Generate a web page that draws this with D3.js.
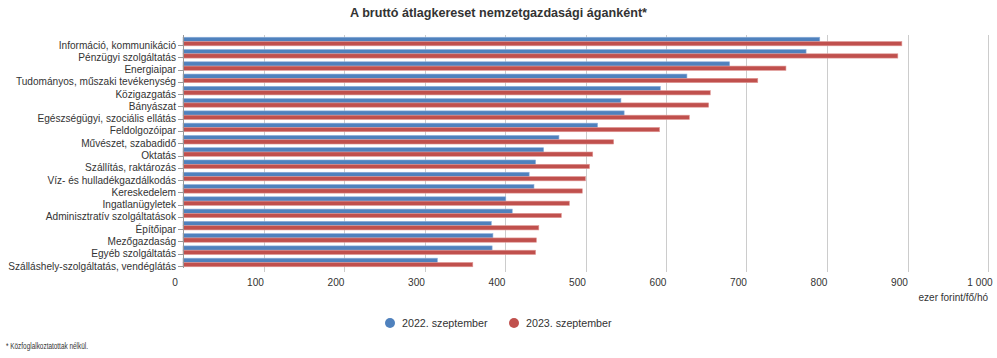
<!DOCTYPE html>
<html><head><meta charset="utf-8">
<script src="https://cdn.jsdelivr.net/npm/d3@7"></script>
<style>
body{margin:0;background:#fff;}
svg{display:block;font-family:"Liberation Sans",Arial,sans-serif;}
</style></head>
<body><svg id="c" width="997" height="358"></svg>
<script>
const categories = ["Információ, kommunikáció","Pénzügyi szolgáltatás","Energiaipar","Tudományos, műszaki tevékenység","Közigazgatás","Bányászat","Egészségügyi, szociális ellátás","Feldolgozóipar","Művészet, szabadidő","Oktatás","Szállítás, raktározás","Víz- és hulladékgazdálkodás","Kereskedelem","Ingatlanügyletek","Adminisztratív szolgáltatások","Építőipar","Mezőgazdaság","Egyéb szolgáltatás","Szálláshely-szolgáltatás, vendéglátás"];
const seriesNames = ["2022. szeptember","2023. szeptember"];
const values2022 = [791,774,679,626,593,544,548,515,467,448,438,430,436,401,409,383,385,384,316];
const values2023 = [893,888,749,714,655,653,629,592,535,509,505,500,496,480,470,442,439,438,360];
const xTicks = [0,100,200,300,400,500,600,700,800,900,1000];
const colors = ["#4F81BD","#C0504D"];
const title = "A bruttó átlagkereset nemzetgazdasági áganként*";
const unitLabel = "ezer forint/fő/hó";
const footnote = "* Közfoglalkoztatottak nélkül.";

const svg = d3.select("#c");
const mLeft = 183, mRight = 988, mTop = 36, mBottom = 268;
const x = d3.scaleLinear().domain([0,1000]).range([mLeft,mRight]);
const y = d3.scaleBand().domain(categories).range([mTop,mBottom]).paddingInner(0.3).paddingOuter(0.1);
const sub = d3.scaleBand().domain(seriesNames).range([0,y.bandwidth()]);

svg.append("text").attr("x",498.5).attr("y",17).attr("text-anchor","middle")
  .attr("font-size",12.6).attr("font-weight","bold").attr("fill","#333").text(title);

// gridlines
svg.append("g").selectAll("line").data(xTicks.slice(1)).join("line")
  .attr("x1",d=>Math.round(x(d))+0.5).attr("x2",d=>Math.round(x(d))+0.5).attr("y1",mTop-1).attr("y2",mBottom+4)
  .attr("stroke","#ccc").attr("stroke-width",1);

// bars
const data = categories.map((c,i)=>({c,vals:[values2022[i],values2023[i]]}));
const g = svg.append("g");
data.forEach(d=>{
  d.vals.forEach((v,j)=>{
    g.append("rect").attr("x",x(0)).attr("y",y(d.c)+sub(seriesNames[j]))
      .attr("width",x(v)-x(0)).attr("height",sub.bandwidth())
      .attr("fill",colors[j]).attr("stroke",j===0?"#8EB0DC":"#E09896").attr("stroke-width",0.6);
  });
});

// left axis
svg.append("line").attr("x1",mLeft+0.5).attr("x2",mLeft+0.5).attr("y1",mTop-1).attr("y2",mBottom)
  .attr("stroke","#999");
const yl = svg.append("g");
categories.forEach(c=>{
  const cy = y(c)+y.bandwidth()/2+3.5;
  yl.append("line").attr("x1",mLeft-5).attr("x2",mLeft).attr("y1",Math.round(cy)+0.5).attr("y2",Math.round(cy)+0.5).attr("stroke","#999");
  yl.append("text").attr("x",mLeft-7).attr("y",cy).attr("dy","0.35em").attr("text-anchor","end")
    .attr("font-size",10.1).attr("fill","#333").text(c);
});

// bottom axis labels
svg.append("g").selectAll("text").data(xTicks).join("text")
  .attr("x",d=>x(d)-8).attr("y",286).attr("text-anchor","middle")
  .attr("font-size",10.1).attr("fill","#333").text(d=>d3.format(",")(d).replace(/,/g," "));
svg.append("text").attr("x",988).attr("y",301).attr("text-anchor","end")
  .attr("font-size",10).attr("fill","#333").text(unitLabel);

// legend
const leg = [{x:390,tx:402},{x:514,tx:526}];
seriesNames.forEach((s,i)=>{
  svg.append("circle").attr("cx",leg[i].x).attr("cy",323).attr("r",5).attr("fill",colors[i]);
  svg.append("text").attr("x",leg[i].tx).attr("y",323).attr("dy","0.35em")
    .attr("font-size",10.7).attr("fill","#333").text(s);
});

svg.append("text").attr("x",6).attr("y",349).attr("font-size",9).attr("fill","#333")
  .attr("textLength",82).attr("lengthAdjust","spacingAndGlyphs").text(footnote);
</script></body></html>
